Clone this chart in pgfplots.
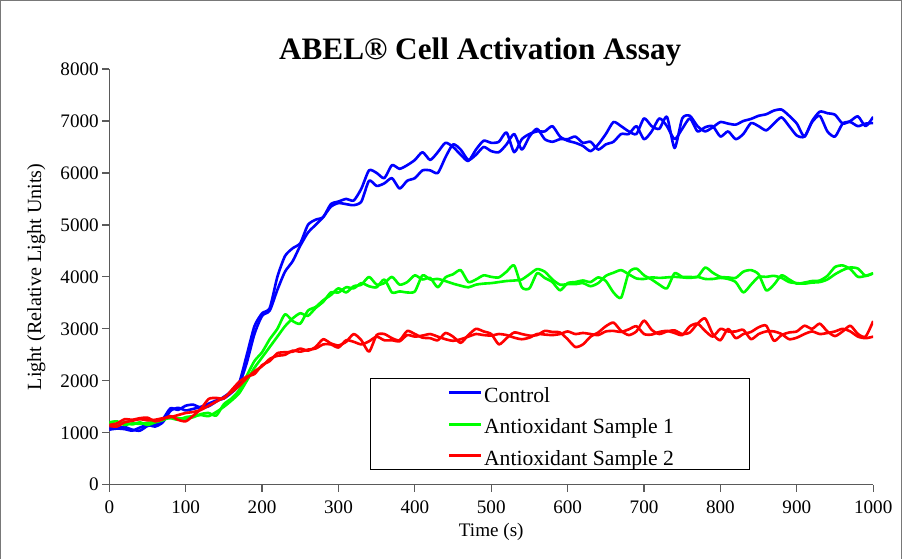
\documentclass[border=0pt]{standalone}
\usepackage{pgfplots}
\pgfplotsset{compat=1.18}
\usepackage{pgfplotstable}
\usepackage{fontspec}
\setmainfont{Liberation Serif}
\definecolor{axgray}{RGB}{90,90,90}
\definecolor{framegray}{RGB}{120,120,120}
\definecolor{cblue}{RGB}{0,0,255}
\definecolor{cgreen}{RGB}{0,255,0}
\definecolor{cred}{RGB}{255,0,0}

\pgfplotstableread{
t cA cB gA gB rA rB
0 1100 1060 1180 1200 1150 1130
10 1090 1080 1150 1220 1180 1120
20 1110 1070 1200 1150 1260 1200
30 1060 1040 1160 1180 1250 1230
40 1040 1100 1200 1170 1280 1260
50 1130 1150 1150 1190 1290 1240
60 1150 1120 1200 1210 1220 1250
70 1260 1200 1240 1260 1260 1280
80 1470 1420 1300 1280 1320 1300
90 1440 1480 1280 1250 1250 1340
100 1520 1430 1270 1300 1220 1380
110 1540 1460 1300 1320 1330 1400
120 1480 1500 1360 1340 1460 1440
130 1510 1560 1380 1320 1650 1520
140 1600 1620 1330 1400 1670 1600
150 1690 1660 1550 1500 1660 1680
160 1800 1770 1660 1620 1820 1780
170 1960 1920 1820 1760 1980 1900
180 2500 2350 2100 2000 2080 2050
190 3050 2900 2380 2250 2130 2180
200 3300 3250 2550 2450 2300 2280
210 3400 3350 2800 2650 2380 2420
220 4000 3750 3000 2850 2530 2480
230 4400 4100 3280 3050 2550 2500
240 4550 4300 3150 3200 2560 2580
250 4650 4600 3100 3300 2620 2560
260 5000 4850 3350 3250 2580 2600
270 5100 5000 3420 3400 2650 2620
280 5150 5150 3550 3520 2800 2700
290 5400 5350 3650 3700 2720 2700
300 5450 5420 3780 3700 2680 2640
310 5500 5400 3700 3800 2750 2780
320 5470 5380 3820 3780 2900 2750
330 5700 5450 3850 3880 2780 2700
340 6050 5850 4000 3820 2560 2760
350 6000 5750 3850 3800 2880 2850
360 5900 5800 3880 3950 2900 2780
370 6150 5900 4000 3700 2820 2780
380 6080 5700 3850 3720 2780 2760
390 6150 5850 3900 3700 2960 2880
400 6250 5900 4030 3720 2900 2850
410 6400 6050 3950 4030 2830 2870
420 6250 6050 3980 3950 2820 2900
430 6400 6000 3800 3960 2780 2850
440 6580 6300 3990 3920 2920 2800
450 6500 6550 4050 3870 2850 2770
460 6350 6450 4130 3830 2730 2800
470 6230 6250 3900 3800 2880 2850
480 6450 6350 3950 3850 3000 2900
490 6620 6500 4030 3870 2950 2880
500 6580 6420 4000 3880 2900 2870
510 6600 6400 3990 3900 2700 2900
520 6780 6550 4100 3920 2820 2880
530 6400 6750 4220 3930 2930 2830
540 6650 6450 3800 3950 2900 2800
550 6750 6700 3780 4050 2870 2830
560 6800 6850 4070 4150 2880 2900
570 6800 6650 3980 4100 2960 2890
580 6900 6600 3900 3950 2940 2880
590 6700 6650 3740 3850 2930 2900
600 6620 6650 3880 3860 2800 2950
610 6580 6700 3900 3860 2650 2900
620 6520 6580 3930 3880 2700 2920
630 6420 6600 3900 3820 2850 2900
640 6550 6450 3990 3880 2930 2880
650 6750 6550 3920 4020 3050 2950
660 6980 6600 3700 4080 3120 2960
670 6900 6750 3600 4130 2960 2940
680 6800 6750 4080 4050 2880 2990
690 6750 6900 4160 3970 2950 3050
700 7050 6650 4030 3960 3160 2900
710 6900 6800 3950 3990 2980 2890
720 6850 7050 3850 3980 2900 2940
730 7080 6900 3780 3990 2950 2960
740 6480 6650 4070 4000 2970 2920
750 7050 6850 4000 3990 2900 2880
760 7100 7050 4000 3980 2930 3050
770 6900 6800 4000 4000 3100 3100
780 6800 6880 4180 3960 3200 2960
790 6880 6900 4080 3960 2900 2850
800 6980 6700 4000 3980 2780 3000
810 6950 6800 3990 3960 3000 2950
820 6930 6650 3980 3900 2820 2950
830 7000 6750 4100 3700 2900 2980
840 7040 6960 4130 3850 2940 2800
850 7100 6900 4050 4000 3030 2900
860 7130 6820 3740 4000 3060 2950
870 7200 6950 3850 4020 2770 2950
880 7220 7070 4030 3980 2880 2900
890 7100 6900 3950 3900 2930 2800
900 6950 6720 3870 3880 2950 2830
910 6700 6700 3890 3870 3060 2900
920 7000 6980 3920 3890 3000 2950
930 7180 7100 3930 3900 3100 2900
940 7150 6800 4020 3950 2950 2920
950 7120 6700 4190 4050 2860 2950
960 6950 6950 4220 4130 2950 3000
970 7000 6980 4150 4180 3060 2950
980 7090 6900 4000 4160 2900 2850
990 6900 6950 4020 4020 2850 2820
1000 7080 6960 4070 4070 3150 2850
}\datatable

\begin{document}
\begin{tikzpicture}
\begin{axis}[
  name=ax,
  scale only axis, width=759pt, height=413pt,
  xmin=0, xmax=1000, ymin=0, ymax=8000,
  xtick={0,100,...,1000}, ytick={0,1000,...,8000},
  axis x line*=bottom, axis y line*=left,
  axis line style={draw=axgray, line width=1.2pt},
  tick style={draw=axgray, line width=1.2pt},
  tick align=outside, major tick length=7pt,
  /pgf/number format/assume math mode=true,
  /pgf/number format/1000 sep={},
  ticklabel style={font=\fontsize{19}{21}\selectfont},
  xticklabel style={yshift=-5pt},
  xlabel={Time (s)},
  xlabel style={font=\fontsize{19}{21}\selectfont, yshift=-3pt},
  ylabel={Light (Relative Light Units)},
  ylabel style={font=\fontsize{20}{22}\selectfont, yshift=8pt},
  title={\textbf{ABEL® Cell Activation Assay}},
  title style={font=\fontsize{31}{34}\selectfont, at={(0.4855,1)}, anchor=base, yshift=3pt},
  legend style={at={(0.3412,0.2567)}, anchor=north west, draw=black, line width=1.2pt,
    inner xsep=0pt, inner ysep=1pt, font=\fontsize{21.5}{30}\selectfont, row sep=4.5pt},
  legend cell align=left,
  legend image code/.code={\path (-77pt,0pt); \draw[#1,line width=3pt] (0pt,0pt) -- (31pt,0pt);},
  every axis plot/.append style={line width=2.6pt, line join=round},
]
\addplot[cblue, no markers, smooth, tension=0.4] table[x=t,y=cA]{\datatable};
\addlegendentry{\makebox[262pt][l]{\strut Control}}
\addplot[cblue, no markers, smooth, tension=0.4, forget plot] table[x=t,y=cB]{\datatable};
\addplot[cgreen, no markers, smooth, tension=0.4] table[x=t,y=gA]{\datatable};
\addlegendentry{\makebox[262pt][l]{\strut Antioxidant Sample 1}}
\addplot[cgreen, no markers, smooth, tension=0.4, forget plot] table[x=t,y=gB]{\datatable};
\addplot[cred, no markers, smooth, tension=0.4] table[x=t,y=rA]{\datatable};
\addlegendentry{\makebox[262pt][l]{\strut Antioxidant Sample 2}}
\addplot[cred, no markers, smooth, tension=0.4, forget plot] table[x=t,y=rB]{\datatable};
\end{axis}
\draw[framegray, line width=1.2pt] ([shift={(-108pt,-74pt)}]ax.south west) -- ([shift={(-108pt,68pt)}]ax.north west) -- ([shift={(28pt,68pt)}]ax.north east) -- ([shift={(28pt,-74pt)}]ax.south east);
\path ([shift={(-108.6pt,-74pt)}]ax.south west) rectangle ([shift={(28.6pt,68.6pt)}]ax.north east);
\end{tikzpicture}
\end{document}
